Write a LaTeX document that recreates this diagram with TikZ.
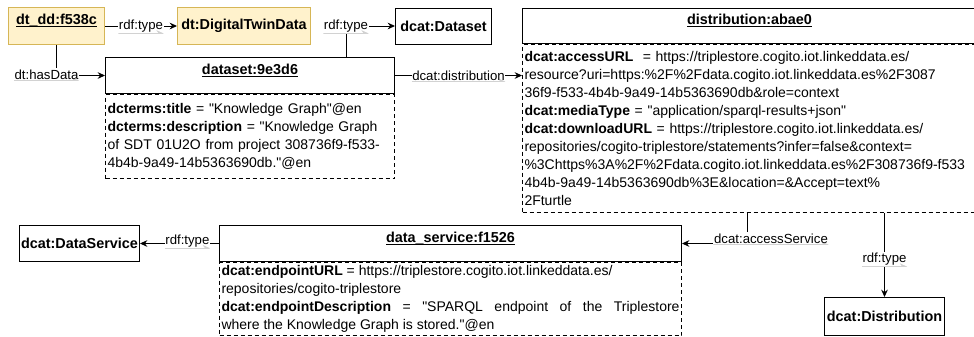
\documentclass[tikz,border=0pt]{standalone}
\usepackage{fontspec}
\setmainfont{Liberation Sans}[Ligatures=TeXOff]
\usetikzlibrary{arrows.meta}
\usetikzlibrary{positioning}
\usepackage{xcolor}
\definecolor{twinfill}{HTML}{FFF2CC}
\definecolor{twindraw}{HTML}{D6B656}
\newcommand{\boxfont}{\fontsize{10.8}{13.5}\selectfont}
\newcommand{\bodyfont}{\fontsize{10.5}{13.5}\selectfont}
\newcommand{\edgefont}{\fontsize{9.9}{12}\selectfont}
\hyphenpenalty=10000
\exhyphenpenalty=10000

\begin{document}
\begin{tikzpicture}
		\tikzstyle{headbox} = [rectangle, draw, line width=0.75pt, font=\boxfont\bfseries,
		inner sep=0pt, minimum height=27pt]
		\tikzstyle{bodybox} = [rectangle, draw, dash pattern=on 3pt off 2.25pt, line width=0.75pt,
		font=\bodyfont, inner xsep=1.5pt, inner ysep=0pt, align=left]
		\tikzstyle{twinbox} = [headbox, draw=twindraw, fill=twinfill]
		\tikzstyle{edgelabel} = [fill=white, font=\edgefont, inner xsep=0.5pt, inner ysep=1pt,
		path picture={\draw[gray!35, line width=0.6pt] (path picture bounding box.south west) -- (path picture bounding box.south east);}]
		\tikzstyle{line} = [draw, line width=0.75pt, -{Stealth[length=5.5pt, width=5pt]}]

		\useasboundingbox (0,0) rectangle (730.5pt,-252pt);

		% Twin data
		\node [twinbox, minimum width=72pt, minimum height=27.75pt, anchor=north west] (dtdd) at (6pt,-5.25pt) {\underline{\smash{dt\_dd:f538c}}};
		\node [twinbox, minimum width=99.75pt, minimum height=27.75pt, right=54pt of dtdd] (dtdata) {dt:DigitalTwinData};

		% Dataset
		\node [headbox, minimum width=72pt, right=63pt of dtdata] (dcatds) {dcat:Dataset};
		\node [headbox, minimum width=216.75pt, below right=9pt and 0pt of dtdd] (dshead) {\underline{\smash{dataset:9e3d6}}};
		\node [bodybox, text width=213.75pt, minimum height=63pt, below=0pt of dshead] (dsbody) {\textbf{dcterms:title} = "Knowledge Graph"@en\\ \textbf{dcterms:description} = "Knowledge Graph\\ of SDT 01U2O from project 308736f9-f533-\\ 4b4b-9a49-14b5363690db."@en};

		% Distribution
		\node [headbox, minimum width=340.5pt, minimum height=26.25pt, right=22.5pt of dcatds] (dishead) {\underline{\smash{distribution:abae0}}};
		\node [bodybox, text width=337.5pt, minimum height=126pt, below=0pt of dishead] (disbody) {\textbf{dcat:accessURL}\ \ = https://triplestore.cogito.iot.linkeddata.es/\\ resource?uri=https:\%2F\%2Fdata.cogito.iot.linkeddata.es\%2F3087\\ 36f9-f533-4b4b-9a49-14b5363690db\&role=context\\ \textbf{dcat:mediaType} = "application/sparql-results+json"\\ \textbf{dcat:downloadURL} = https://triplestore.cogito.iot.linkeddata.es/\\ repositories/cogito-triplestore/statements?infer=false\&context=\\ \%3Chttps\%3A\%2F\%2Fdata.cogito.iot.linkeddata.es\%2F308736f9-f533\\ 4b4b-9a49-14b5363690db\%3E\&location=\&Accept=text\%\\ 2Fturtle};
		\node [headbox, minimum width=90pt, minimum height=28.5pt, anchor=north west] (dcatdist) at (618pt,-222.75pt) {dcat:Distribution};

		% Data service
		\node [headbox, minimum width=346.5pt, anchor=north west] (svhead) at (164.25pt,-168.75pt) {\underline{\smash{data\_service:f1526}}};
		\node [bodybox, align=justify, text width=343.5pt, minimum height=54.75pt, below=0pt of svhead] (svbody) {\textbf{dcat:endpointURL} = https://triplestore.cogito.iot.linkeddata.es/\\ repositories/cogito-triplestore\\ \textbf{dcat:endpointDescription} = "SPARQL endpoint of the Triplestore\linebreak where the Knowledge Graph is stored."@en};
		\node [headbox, minimum width=90pt, left=59.25pt of svhead] (dcatsvc) {dcat:DataService};

		% arrows
		\draw [line] (dtdd) -- node [edgelabel] {rdf:type} (dtdata);
		\draw [line] (dtdd.south) |- node [edgelabel, pos=0.5, xshift=-7.5pt, yshift=0.75pt] {dt:hasData} (dshead.west);
		\draw [line] ([xshift=-36.75pt]dshead.north east) |- node [edgelabel, pos=0.5] {rdf:type} (dcatds.west);
		\draw [line] (dshead.east) -- node [edgelabel] {dcat:distribution} (dshead.east -| disbody.west);
		%
		\draw [line] ([xshift=168.75pt]disbody.south west) |- node [edgelabel, pos=0.5, xshift=18pt, yshift=3.75pt] {dcat:accessService} (svhead.east);
		\draw [line] (dcatdist.north |- disbody.south) -- node [edgelabel, pos=0.55] {rdf:type} (dcatdist.north);
		\draw [line] (svhead.west) -- node [edgelabel, pos=0.4, yshift=2pt] {rdf:type} (dcatsvc.east);

\end{tikzpicture}
\end{document}
